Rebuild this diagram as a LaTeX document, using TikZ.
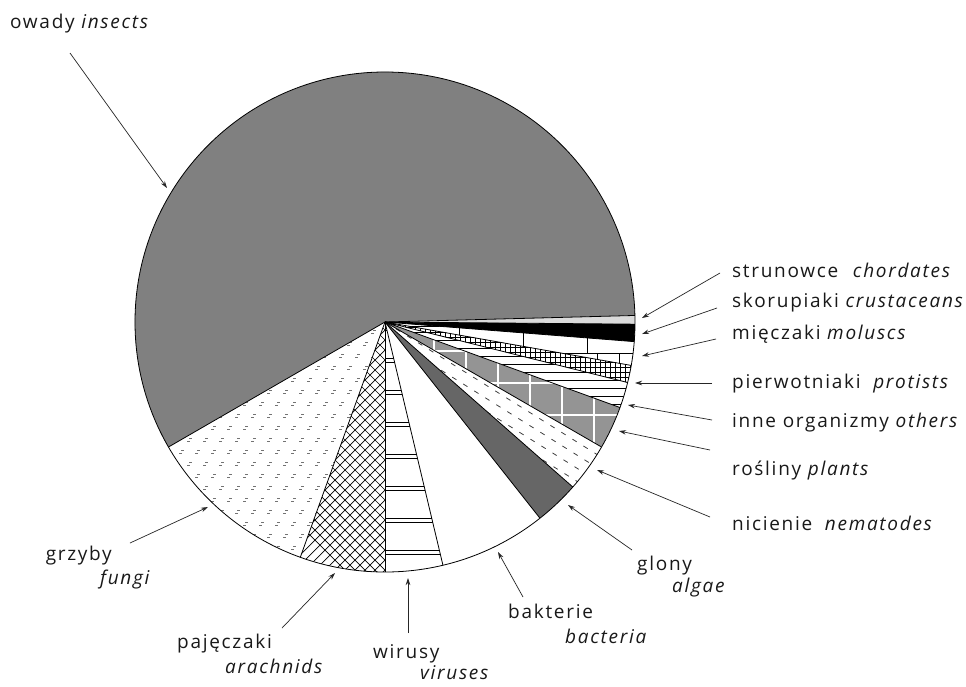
\documentclass[tikz,border=0pt]{standalone}
\usepackage{fontspec}
\setmainfont{Open Sans}[LetterSpace=9]
\usetikzlibrary{arrows.meta}
\begin{document}
\begin{tikzpicture}[x=1pt,y=-1pt,
  pieslice/.style 2 args={insert path={(385,322) -- +(#1:250) arc[start angle=#1,end angle=#2,radius=250] -- cycle}},
  edge/.style={draw=black, line width=0.8pt},
  hatchline/.style={draw=black, line width=0.7pt},
  fmark/.style={draw=black!55, line width=0.6pt},
  dline/.style={draw=black!75, line width=0.8pt, dash pattern=on 5pt off 8pt},
  wline/.style={draw=white, line width=2.5pt},
  lbl/.style={inner sep=0pt, font=\fontsize{19}{22}\selectfont, text=black!90},
  pointer/.style={draw=black!85, line width=0.7pt, -{Stealth[length=7pt,width=4.5pt]}}]
\useasboundingbox (0,0) rectangle (966,686);
\fill[white] (0,0) rectangle (966,686);

% insects
\fill[black!50, pieslice={150}{358.5}];
% chordates
\fill[black!14, pieslice={-1.5}{0.5}];
% crustaceans
\fill[black, pieslice={0.5}{4.5}];
% molluscs (bricks)
\begin{scope}
  \clip[pieslice={4.5}{10}];
  \foreach \yy in {326,353,380} \draw[hatchline] (385,\yy) -- (640,\yy);
  \foreach \xx in {395,459,523,587,651} \draw[hatchline] (\xx,326) -- (\xx,353);
  \foreach \xx in {427,491,555,597,619} \draw[hatchline] (\xx,353) -- (\xx,380);
\end{scope}
% protists (small grid)
\begin{scope}
  \clip[pieslice={10}{14}];
  \foreach \xx in {385,390,...,640} \draw[draw=black, line width=0.55pt] (\xx,322) -- (\xx,400);
  \foreach \yy in {322,327,...,400} \draw[draw=black, line width=0.55pt] (385,\yy) -- (640,\yy);
\end{scope}
% others (horizontal lines)
\begin{scope}
  \clip[pieslice={14}{20}];
  \foreach \yy in {324,332,...,420} \draw[hatchline] (385,\yy) -- (640,\yy);
\end{scope}
% plants (checker blocks)
\begin{scope}
  \clip[pieslice={20}{30}];
  \fill[black!42] (385,322) rectangle (640,460);
  \foreach \xx in {434,466,...,626} \draw[wline] (\xx,322) -- (\xx,460);
  \foreach \yy in {351,383,415,447} \draw[wline] (385,\yy) -- (640,\yy);
\end{scope}
% nematodes (dashed)
\begin{scope}
  \clip[pieslice={30}{41.3}];
  \foreach \k in {-20,...,20} \draw[dline] ({385+21*\k},322) -- ++(32:420);
\end{scope}
% algae
\fill[black!60, pieslice={41.3}{51.7}];
% viruses (double lines)
\begin{scope}
  \clip[pieslice={76.6}{90}];
  \foreach \yy in {326,358,390,422,454,486,518,550}
    \draw[hatchline] (380,\yy) -- (470,\yy) (380,\yy+4) -- (470,\yy+4);
\end{scope}
% arachnids (crosshatch)
\begin{scope}
  \clip[pieslice={90}{109.8}];
  \foreach \k in {-30,...,30} {
    \draw[hatchline] ({385+10*\k},310) -- ++(280,280);
    \draw[hatchline] ({385+10*\k},310) -- ++(-280,280);
  }
\end{scope}
% fungi (small marks)
\begin{scope}
  \clip[pieslice={109.8}{150}];
  \foreach \i in {0,...,17} \foreach \j in {0,...,22}
    \draw[fmark] ({125+16*\i+8*mod(\j,2)},{318+12*\j}) -- ++(3,0) ++(-5,3) -- ++(3,0);
\end{scope}

% slice borders and outline
\foreach \a in {-1.5,0.5,4.5,10,14,20,30,41.3,51.7,76.6,90,109.8,150}
  \draw[edge] (385,322) -- +(\a:250);
\draw[edge] (385,322) circle[radius=250];

% labels
\node[lbl, anchor=base west] (lins) at (10,28) {owady \textit{insects}};
\node[lbl, anchor=base west] (lcho) at (732,277) {strunowce\hspace{8pt} \textit{chordates}};
\node[lbl, anchor=base west] (lcru) at (732,307) {skorupiaki \textit{crustaceans}};
\node[lbl, anchor=base west] (lmol) at (732,339) {mięczaki \textit{moluscs}};
\node[lbl, anchor=base west] (lpro) at (732,388) {pierwotniaki\hspace{6pt} \textit{protists}};
\node[lbl, anchor=base west] (loth) at (732,427) {inne organizmy \textit{others}};
\node[lbl, anchor=base west] (lpla) at (732,475) {rośliny \textit{plants}};
\node[lbl, anchor=base west] (lnem) at (732,530) {nicienie\hspace{6pt} \textit{nematodes}};
\node[lbl, anchor=base west] (lalg1) at (637,570) {glony};
\node[lbl, anchor=base west] (lalg2) at (672,592) {\textit{algae}};
\node[lbl, anchor=base west] (lbac1) at (508,618) {bakterie};
\node[lbl, anchor=base west] (lbac2) at (565,643) {\textit{bacteria}};
\node[lbl, anchor=base west] (lvir1) at (373,658) {wirusy};
\node[lbl, anchor=base west] (lvir2) at (420,679) {\textit{viruses}};
\node[lbl, anchor=base west] (lara1) at (177,648) {pajęczaki};
\node[lbl, anchor=base west] (lara2) at (225,673) {\textit{arachnids}};
\node[lbl, anchor=base east] (lfun1) at (112,560) {grzyby};
\node[lbl, anchor=base west] (lfun2) at (100,584) {\textit{fungi}};

% arrow ends
\coordinate (tins) at (70,53);   \coordinate (pins) at (167,188);
\coordinate (tcho) at (720,273); \coordinate (pcho) at (642,318);
\coordinate (tcru) at (717,308); \coordinate (pcru) at (642,334);
\coordinate (tmol) at (716,339); \coordinate (pmol) at (642,356);
\coordinate (tpro) at (712,383); \coordinate (ppro) at (635,383);
\coordinate (toth) at (712,420); \coordinate (poth) at (628,405);
\coordinate (tpla) at (710,450); \coordinate (ppla) at (619,431);
\coordinate (tnem) at (710,517); \coordinate (pnem) at (597,470);
\coordinate (talg) at (632,550); \coordinate (palg) at (568,505);
\coordinate (tbac) at (523,597); \coordinate (pbac) at (498,552);
\coordinate (tvir) at (408,633); \coordinate (pvir) at (408,578);
\coordinate (tara) at (282,628); \coordinate (para) at (335,573);
\coordinate (tfun) at (130,543); \coordinate (pfun) at (208,507);

\draw[pointer] (tins) -- (pins);
\draw[pointer] (tcho) -- (pcho);
\draw[pointer] (tcru) -- (pcru);
\draw[pointer] (tmol) -- (pmol);
\draw[pointer] (tpro) -- (ppro);
\draw[pointer] (toth) -- (poth);
\draw[pointer] (tpla) -- (ppla);
\draw[pointer] (tnem) -- (pnem);
\draw[pointer] (talg) -- (palg);
\draw[pointer] (tbac) -- (pbac);
\draw[pointer] (tvir) -- (pvir);
\draw[pointer] (tara) -- (para);
\draw[pointer] (tfun) -- (pfun);
\end{tikzpicture}
\end{document}
